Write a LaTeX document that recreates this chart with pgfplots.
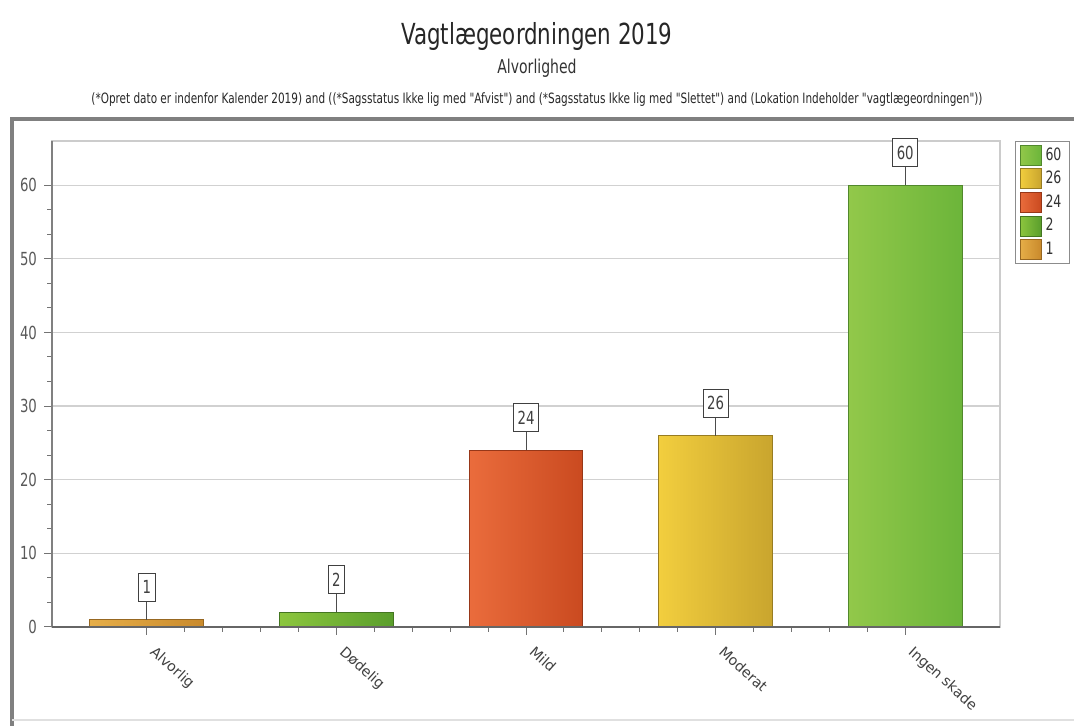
\documentclass[border=0pt]{standalone}
\usepackage{pgfplots}
\pgfplotsset{compat=1.18}
\usepackage{fontspec}
\setmainfont{DejaVu Sans Condensed}
\newfontfamily\narrow[FakeStretch=0.82]{DejaVu Sans Condensed}
\newfontfamily\wide{DejaVu Sans}

\definecolor{alvL}{HTML}{E6AE48}
\definecolor{alvR}{HTML}{C98A2C}
\definecolor{dodL}{HTML}{8CC63E}
\definecolor{dodR}{HTML}{5A9E2C}
\definecolor{milL}{HTML}{EA6C3C}
\definecolor{milR}{HTML}{CA4A20}
\definecolor{modL}{HTML}{F2CE3E}
\definecolor{modR}{HTML}{C9A52E}
\definecolor{ingL}{HTML}{92C84A}
\definecolor{ingR}{HTML}{6CB53A}
\definecolor{txt}{HTML}{404040}

\pgfplotsset{
  sbar/.style n args={2}{
    left color=#1, right color=#2, draw=#2!75!black, line width=0.5pt,
    legend image code/.code={\draw[##1] (0pt,-5pt) rectangle (10.5pt,5pt);},
    error bars/.cd, y dir=plus, y fixed=2.45, error mark=none,
    error bar style={draw=black!70, line width=0.5pt},
  },
}

\begin{document}
\begin{tikzpicture}
\begin{axis}[
  name=ax, at={(0,0)}, anchor=south west,
  scale only axis, width=474pt, height=243pt,
  ybar, bar width=0.6, bar shift=0pt,
  xmin=-0.5, xmax=4.5, ymin=0, ymax=66,
  xtick={0,...,4},
  xticklabels={Alvorlig,Dødelig,Mild,Moderat,Ingen skade},
  minor x tick num=4,
  ytick={0,10,...,60}, minor y tick num=2,
  xtick pos=bottom, ytick pos=left,
  tick align=outside, major tick length=4pt, minor tick length=2.5pt,
  tick style={black!55, line width=0.5pt},
  ymajorgrids, major grid style={black!18, line width=0.6pt},
  axis line style={black!20, line width=0.6pt},
  /pgf/number format/assume math mode=true,
  yticklabel style={font=\narrow\fontsize{9}{10}\selectfont, text=black!65},
  xticklabel style={font=\wide\fontsize{7.1}{9}\selectfont, text=txt,
    rotate=-42, anchor=north west, xshift=3.5pt, yshift=3pt},
  nodes near coords,
  every node near coord/.append style={anchor=south, yshift=9pt,
    draw=black!75, fill=white, text=black!75, line width=0.5pt,
    inner xsep=2pt, inner ysep=2pt, minimum height=14pt,
    font=\narrow\fontsize{9}{10}\selectfont},
  reverse legend,
  legend style={at={(1,1)}, anchor=north west, xshift=7.5pt,
    draw=black!45, fill=white, line width=0.5pt,
    font=\narrow\fontsize{8.5}{10}\selectfont, text=black!80,
    row sep=0pt, inner xsep=2pt, inner ysep=1pt,
    cells={anchor=west}},
]
\addplot[sbar={alvL}{alvR}] coordinates {(0,1)};
\addlegendentry{1}
\addplot[sbar={dodL}{dodR}] coordinates {(1,2)};
\addlegendentry{2}
\addplot[sbar={milL}{milR}] coordinates {(2,24)};
\addlegendentry{24}
\addplot[sbar={modL}{modR}] coordinates {(3,26)};
\addlegendentry{26}
\addplot[sbar={ingL}{ingR}] coordinates {(4,60)};
\addlegendentry{60}
\end{axis}

% darker left and bottom axis lines
\draw[black!50, line width=0.6pt] (ax.north west) -- (ax.south west);
\draw[black!60, line width=0.7pt] (ax.south west) -- (ax.south east);

% outer frame
\draw[black!50, line width=1.6pt] (-20pt,-80pt) -- (-20pt,254pt) -- (540pt,254pt);
\draw[black!12, line width=0.6pt] (-20pt,-46.5pt) -- (540pt,-46.5pt);

% titles
\node[font=\narrow\fontsize{14.5}{16}\selectfont, text=black!85] at (242.5pt,295pt) {Vagtlægeordningen 2019};
\node[font=\narrow\fontsize{9.5}{11}\selectfont, text=black!80] at (242.5pt,279.5pt) {Alvorlighed};
\node[font=\narrow\fontsize{7.1}{9}\selectfont, text=black!85] at (242.5pt,263.5pt) {(*Opret dato er indenfor Kalender 2019) and ((*Sagsstatus Ikke lig med "Afvist") and (*Sagsstatus Ikke lig med "Slettet") and (Lokation Indeholder "vagtlægeordningen"))};

\pgfresetboundingbox
\path[use as bounding box] (-26pt,-49.5pt) rectangle (511pt,313.5pt);
\end{tikzpicture}
\end{document}
